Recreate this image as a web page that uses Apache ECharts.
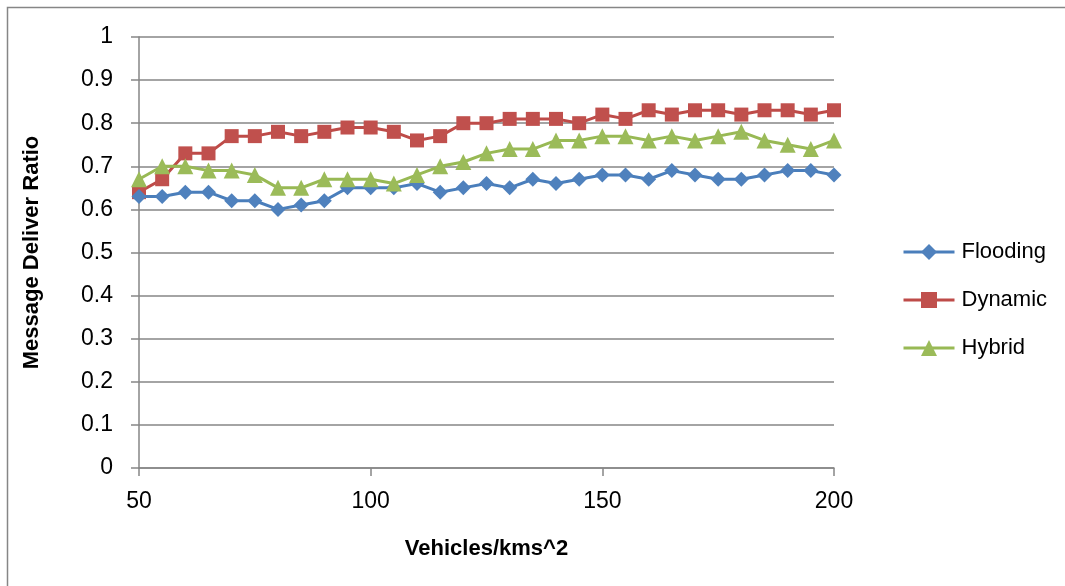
<!DOCTYPE html>
<html>
<head>
<meta charset="utf-8">
<script src="https://cdn.jsdelivr.net/npm/echarts@6/dist/echarts.min.js"></script>
<style>
  html, body { margin: 0; padding: 0; background: #fff; }
  #chart { width: 1065px; height: 586px; }
</style>
</head>
<body>
<div id="chart"></div>
<script>
// Vehicle density (vehicles per km^2)
const density = [50, 55, 60, 65, 70, 75, 80, 85, 90, 95, 100, 105, 110, 115, 120, 125,
                 130, 135, 140, 145, 150, 155, 160, 165, 170, 175, 180, 185, 190, 195, 200];

// Message delivery ratio per scheme
const flooding = [0.63, 0.63, 0.64, 0.64, 0.62, 0.62, 0.60, 0.61, 0.62, 0.65, 0.65, 0.65, 0.66, 0.64, 0.65, 0.66,
                  0.65, 0.67, 0.66, 0.67, 0.68, 0.68, 0.67, 0.69, 0.68, 0.67, 0.67, 0.68, 0.69, 0.69, 0.68];
const dynamic  = [0.64, 0.67, 0.73, 0.73, 0.77, 0.77, 0.78, 0.77, 0.78, 0.79, 0.79, 0.78, 0.76, 0.77, 0.80, 0.80,
                  0.81, 0.81, 0.81, 0.80, 0.82, 0.81, 0.83, 0.82, 0.83, 0.83, 0.82, 0.83, 0.83, 0.82, 0.83];
const hybrid   = [0.67, 0.70, 0.70, 0.69, 0.69, 0.68, 0.65, 0.65, 0.67, 0.67, 0.67, 0.66, 0.68, 0.70, 0.71, 0.73,
                  0.74, 0.74, 0.76, 0.76, 0.77, 0.77, 0.76, 0.77, 0.76, 0.77, 0.78, 0.76, 0.75, 0.74, 0.76];

const seriesNames = ['Flooding', 'Dynamic', 'Hybrid'];
const yTicks = [0, 0.1, 0.2, 0.3, 0.4, 0.5, 0.6, 0.7, 0.8, 0.9, 1];

const FONT = '"Liberation Sans", Arial, sans-serif';
const GRID_GREY = '#868686';

const pairs = arr => density.map((x, i) => [x, arr[i]]);

const chart = echarts.init(document.getElementById('chart'), null, { renderer: 'canvas' });

chart.setOption({
  animation: false,
  backgroundColor: '#ffffff',
  graphic: [{
    type: 'polyline',
    shape: { points: [[7.5, 600], [7.5, 7.5], [1080, 7.5]] },
    style: { stroke: GRID_GREY, lineWidth: 1.5, fill: null },
    silent: true
  }],
  grid: { left: 139, right: 231, top: 37, bottom: 118, containLabel: false },
  legend: {
    orient: 'vertical',
    left: 897,
    top: 236,
    itemWidth: 51,
    itemHeight: 20,
    itemGap: 26,
    lineStyle: { width: 3 },
    textStyle: { fontFamily: FONT, fontSize: 22, color: '#000', padding: [0, 0, 0, 2] },
    data: seriesNames
  },
  xAxis: {
    type: 'value',
    min: 50,
    max: 200,
    interval: 50,
    name: 'Vehicles/kms^2',
    nameLocation: 'middle',
    nameGap: 70,
    nameTextStyle: { fontFamily: FONT, fontSize: 22, fontWeight: 'bold', color: '#000' },
    axisLine: { show: true, lineStyle: { color: GRID_GREY, width: 1.5 } },
    axisTick: { show: true, inside: false, length: 8, lineStyle: { color: GRID_GREY, width: 1.5 } },
    axisLabel: { fontFamily: FONT, fontSize: 23, color: '#000', margin: 22 },
    splitLine: { show: false }
  },
  yAxis: {
    type: 'value',
    min: 0,
    max: 1,
    interval: 0.1,
    name: 'Message Deliver Ratio',
    nameLocation: 'middle',
    nameGap: 96,
    nameTextStyle: { fontFamily: FONT, fontSize: 22, fontWeight: 'bold', color: '#000' },
    axisLine: { show: true, lineStyle: { color: GRID_GREY, width: 1.5 } },
    axisTick: { show: true, inside: false, length: 8, lineStyle: { color: GRID_GREY, width: 1.5 } },
    axisLabel: {
      fontFamily: FONT, fontSize: 23, color: '#000', margin: 26,
      formatter: v => {
        const t = yTicks.find(k => Math.abs(k - v) < 1e-9);
        return t === undefined ? '' : String(t);
      }
    },
    splitLine: { show: true, lineStyle: { color: GRID_GREY, width: 1.5 } }
  },
  series: [
    {
      name: 'Flooding',
      type: 'line',
      data: pairs(flooding),
      symbol: 'diamond',
      symbolSize: 15,
      lineStyle: { color: '#4A7EBB', width: 3 },
      itemStyle: { color: '#4F81BD' },
      z: 3
    },
    {
      name: 'Dynamic',
      type: 'line',
      data: pairs(dynamic),
      symbol: 'rect',
      symbolSize: 14,
      lineStyle: { color: '#BE4B48', width: 3 },
      itemStyle: { color: '#C0504D' },
      z: 2
    },
    {
      name: 'Hybrid',
      type: 'line',
      data: pairs(hybrid),
      symbol: 'triangle',
      symbolSize: 16,
      lineStyle: { color: '#98B954', width: 3 },
      itemStyle: { color: '#9BBB59' },
      z: 4
    }
  ]
});
</script>
</body>
</html>
